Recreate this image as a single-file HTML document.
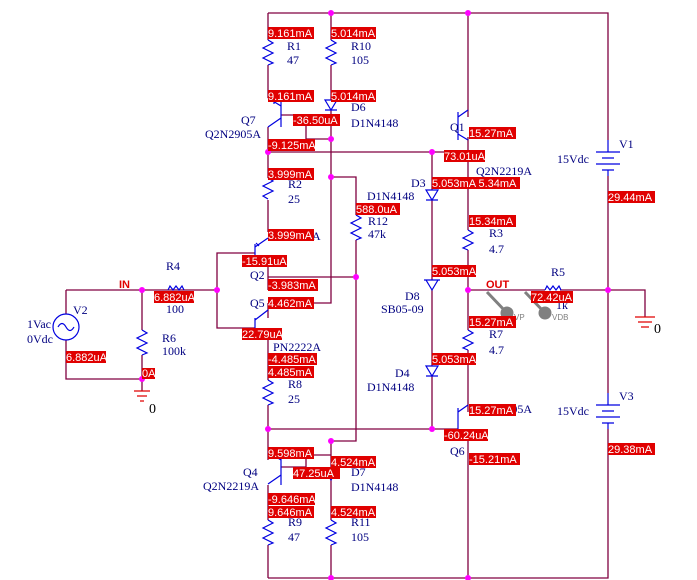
<!DOCTYPE html>
<html><head><style>
html,body{margin:0;padding:0;background:#fff}
svg{display:block}
.w{stroke:#800040;stroke-width:1.3;fill:none}
.b{stroke:#0000e0;stroke-width:1.2;fill:none}
.rd{stroke:#e00000;stroke-width:1.3;fill:none}
.t{font-family:"Liberation Serif",serif;font-size:12px;fill:#000080}
.lt{font-family:"Liberation Sans",sans-serif;font-size:11px;fill:#fff}
.lb{fill:#e00000}
.j{fill:#ff00ff}
</style></head><body>
<svg width="697" height="580" viewBox="0 0 697 580" xmlns="http://www.w3.org/2000/svg">
<!-- wires -->
<g class="w">
<path d="M268 13H608V140M608 176V393M608 429V578H268"/>
<path d="M268 13V40M268 65V98M268 127V152H458"/>
<path d="M331 13V40M331 65V100M331 110V303H268"/>
<path d="M281 115H306V139H331"/>
<path d="M331 177H356V215M356 240V441H331V470M331 480V520M331 545V578"/>
<path d="M268 277H356"/>
<path d="M268 152V178M268 200V232M268 262V290"/>
<path d="M268 303V318M268 337V380M268 405V460M268 485V520M268 545V578"/>
<path d="M255 253H217V328H255"/>
<path d="M66 290H217M66 290V314M66 340V379H142V391M142 290V330M142 355V379"/>
<path d="M432 152V190M432 200V280M432 290V366M432 376V429H458M268 429H432"/>
<path d="M468 13V117M468 137V230M468 250V330M468 350V412M468 432V578"/>
<path d="M468 290H545M560 290H645V317"/>
<path d="M281 467H306V455H331"/>
</g>
<!-- junctions -->
<g class="j">
<circle cx="331" cy="13" r="3"/><circle cx="468" cy="13" r="3"/><circle cx="331" cy="139" r="3"/>
<circle cx="268" cy="152" r="3"/><circle cx="432" cy="152" r="3"/><circle cx="331" cy="177" r="3"/>
<circle cx="356" cy="277" r="3"/><circle cx="217" cy="290" r="3"/><circle cx="142" cy="290" r="3"/>
<circle cx="468" cy="290" r="3"/><circle cx="608" cy="290" r="3"/><circle cx="142" cy="379" r="3"/>
<circle cx="268" cy="429" r="3"/><circle cx="432" cy="429" r="3"/><circle cx="331" cy="441" r="3"/>
<circle cx="331" cy="578" r="3"/><circle cx="468" cy="578" r="3"/>
</g>
<!-- resistors -->
<g class="b">
<path d="M268 40l5 3-10 5 10 5-10 5 10 5-5 2"/>
<path d="M331 40l5 3-10 5 10 5-10 5 10 5-5 2"/>
<path d="M268 178l5 3-10 5 10 5-10 5 5 3"/>
<path d="M356 215l5 3-10 5 10 5-10 5 10 5-5 2"/>
<path d="M468 230l5 3-10 5 10 5-10 5 5 2"/>
<path d="M468 330l5 3-10 5 10 5-10 5 5 2"/>
<path d="M268 380l5 3-10 5 10 5-10 5 10 5-5 2"/>
<path d="M268 520l5 3-10 5 10 5-10 5 10 5-5 2"/>
<path d="M331 520l5 3-10 5 10 5-10 5 10 5-5 2"/>
<path d="M142 330l5 3-10 5 10 5-10 5 10 5-5 2"/>
<path d="M545 290l2-4 3 4 3-4 3 4 3-4 2 4"/>
<path d="M168 290l2-4 3 4 3-4 3 4 3-4 2 4"/>
<!-- diodes -->
<path d="M325 100h12l-6 10z M325 110h12"/>
<path d="M325 470h12l-6 10z M325 470h12"/>
<path d="M426 190h12l-6 10z M426 200h12"/>
<path d="M426 280h12l-6 10z M424 280h16"/>
<path d="M426 366h12l-6 10z M426 376h12"/>
<!-- transistors -->
<path d="M281 98V127M268 98l13 8M281 118l-13 9"/><path d="M270 101l4-1 0 4"/>
<path d="M255 244V262M268 238l-13 9M255 256l13 7"/><path d="M259 246l-3 -3"/>
<path d="M255 318V337M268 310l-13 10M255 331l13 7"/>
<path d="M281 457V485M268 452l13 8M281 475l-13 9"/>
<path d="M458 112V140M468 110l-10 7M458 134l10 6"/>
<path d="M458 408V436M468 405l-10 7M458 430l10 5"/>
<!-- batteries -->
<path d="M596 152h24M602 158h12M596 164h24M602 170h12M608 140v12M608 170v6"/>
<path d="M596 405h24M602 411h12M596 417h24M602 423h12M608 393v12M608 423v6"/>
<circle cx="66" cy="327" r="13"/><path d="M58 327q4-7 8 0t8 0"/>
</g>
<g class="rd">
<path d="M134 391h16M137 396h10M140 401h4"/>
<path d="M635 317h20M638 322h14M641 327h8"/>
</g>
<!-- probes -->
<g stroke="#808080" stroke-width="3" fill="#808080">
<path d="M487 292L507 313"/><circle cx="507" cy="313" r="5"/>
<path d="M525 292L545 313"/><circle cx="545" cy="313" r="5"/>
</g>
<text x="514" y="320" font-family="Liberation Sans" font-size="8" fill="#808080">VP</text>
<text x="552" y="320" font-family="Liberation Sans" font-size="8" fill="#808080">VDB</text>
<!-- part labels -->
<g class="t">
<text x="287" y="50">R1</text><text x="287" y="64">47</text>
<text x="351" y="50">R10</text><text x="351" y="64">105</text>
<text x="351" y="111">D6</text><text x="351" y="127">D1N4148</text>
<text x="241" y="124">Q7</text><text x="205" y="138">Q2N2905A</text>
<text x="450" y="131">Q1</text><text x="476" y="175">Q2N2219A</text>
<text x="411" y="187">D3</text><text x="367" y="200">D1N4148</text>
<text x="288" y="188">R2</text><text x="288" y="203">25</text>
<text x="368" y="225">R12</text><text x="368" y="238">47k</text>
<text x="489" y="237">R3</text><text x="489" y="253">4.7</text>
<text x="312" y="240">A</text>
<text x="250" y="279">Q2</text><text x="250" y="307">Q5</text>
<text x="405" y="300">D8</text><text x="381" y="313">SB05-09</text>
<text x="273" y="351">PN2222A</text>
<text x="288" y="388">R8</text><text x="288" y="403">25</text>
<text x="489" y="338">R7</text><text x="489" y="354">4.7</text>
<text x="395" y="377">D4</text><text x="367" y="391">D1N4148</text>
<text x="476" y="413">Q2N2905A</text>
<text x="450" y="455">Q6</text>
<text x="243" y="476">Q4</text><text x="203" y="490">Q2N2219A</text>
<text x="351" y="476">D7</text><text x="351" y="491">D1N4148</text>
<text x="288" y="526">R9</text><text x="288" y="541">47</text>
<text x="351" y="526">R11</text><text x="351" y="541">105</text>
<text x="619" y="148">V1</text><text x="557" y="163">15Vdc</text>
<text x="619" y="400">V3</text><text x="557" y="415">15Vdc</text>
<text x="551" y="276">R5</text><text x="556" y="309">1k</text>
<text x="166" y="270">R4</text><text x="166" y="313">100</text>
<text x="73" y="314">V2</text><text x="27" y="328">1Vac</text><text x="27" y="343">0Vdc</text>
<text x="162" y="342">R6</text><text x="162" y="355">100k</text>
<text x="149" y="413" fill="#000" font-size="14">0</text>
<text x="700" y="0"></text>
<text x="654" y="333" fill="#000" font-size="14">0</text>
</g>
<g font-family="Liberation Sans" font-weight="bold" font-size="11" fill="#e00000">
<text x="119" y="288">IN</text><text x="486" y="288">OUT</text>
</g>
<!-- current labels -->
<g class="lb">
<rect x="268" y="27" width="46" height="12"/><rect x="331" y="27" width="45" height="12"/>
<rect x="268" y="90" width="46" height="12"/><rect x="331" y="90" width="45" height="12"/>
<rect x="293" y="114" width="47" height="12"/><rect x="268" y="139" width="47" height="12"/>
<rect x="469" y="127" width="47" height="12"/><rect x="444" y="150" width="41" height="12"/>
<rect x="432" y="177" width="88" height="12"/><rect x="268" y="168" width="46" height="12"/>
<rect x="356" y="203" width="44" height="12"/><rect x="469" y="215" width="47" height="12"/>
<rect x="268" y="229" width="46" height="12"/><rect x="242" y="255" width="45" height="12"/>
<rect x="268" y="279" width="50" height="12"/><rect x="432" y="265" width="44" height="12"/>
<rect x="531" y="291" width="42" height="12"/><rect x="154" y="291" width="40" height="12"/>
<rect x="268" y="297" width="46" height="12"/><rect x="242" y="328" width="40" height="12"/>
<rect x="469" y="316" width="47" height="12"/><rect x="268" y="353" width="49" height="12"/>
<rect x="268" y="366" width="46" height="12"/><rect x="432" y="353" width="44" height="12"/>
<rect x="66" y="351" width="40" height="12"/><rect x="142" y="368" width="13" height="11"/>
<rect x="469" y="404" width="47" height="12"/><rect x="444" y="429" width="44" height="12"/>
<rect x="469" y="453" width="51" height="12"/><rect x="268" y="447" width="46" height="12"/>
<rect x="331" y="456" width="45" height="12"/><rect x="293" y="467" width="47" height="12"/>
<rect x="268" y="493" width="47" height="12"/><rect x="268" y="506" width="46" height="12"/>
<rect x="331" y="506" width="45" height="12"/>
<rect x="608" y="191" width="47" height="12"/><rect x="608" y="443" width="47" height="12"/>
</g>
<g class="lt">
<text x="268" y="37">9.161mA</text><text x="331" y="37">5.014mA</text>
<text x="268" y="100">9.161mA</text><text x="331" y="100">5.014mA</text>
<text x="293" y="124">-36.50uA</text><text x="268" y="149">-9.125mA</text>
<text x="469" y="137">15.27mA</text><text x="444" y="160">73.01uA</text>
<text x="432" y="187">5.053mA 5.34mA</text><text x="268" y="178">3.999mA</text>
<text x="356" y="213">588.0uA</text><text x="469" y="225">15.34mA</text>
<text x="268" y="239">3.999mA</text><text x="242" y="265">-15.91uA</text>
<text x="268" y="289">-3.983mA</text><text x="432" y="275">5.053mA</text>
<text x="531" y="301">72.42uA</text><text x="154" y="301">6.882uA</text>
<text x="268" y="307">4.462mA</text><text x="242" y="338">22.79uA</text>
<text x="469" y="326">15.27mA</text><text x="268" y="363">-4.485mA</text>
<text x="268" y="376">4.485mA</text><text x="432" y="363">5.053mA</text>
<text x="66" y="361">6.882uA</text><text x="142" y="377">0A</text>
<text x="469" y="414">15.27mA</text><text x="444" y="439">-60.24uA</text>
<text x="469" y="463">-15.21mA</text><text x="268" y="457">9.598mA</text>
<text x="331" y="466">4.524mA</text><text x="293" y="477">47.25uA</text>
<text x="268" y="503">-9.646mA</text><text x="268" y="516">9.646mA</text>
<text x="331" y="516">4.524mA</text>
<text x="608" y="201">29.44mA</text><text x="608" y="453">29.38mA</text>
</g>
</svg>
</body></html>
